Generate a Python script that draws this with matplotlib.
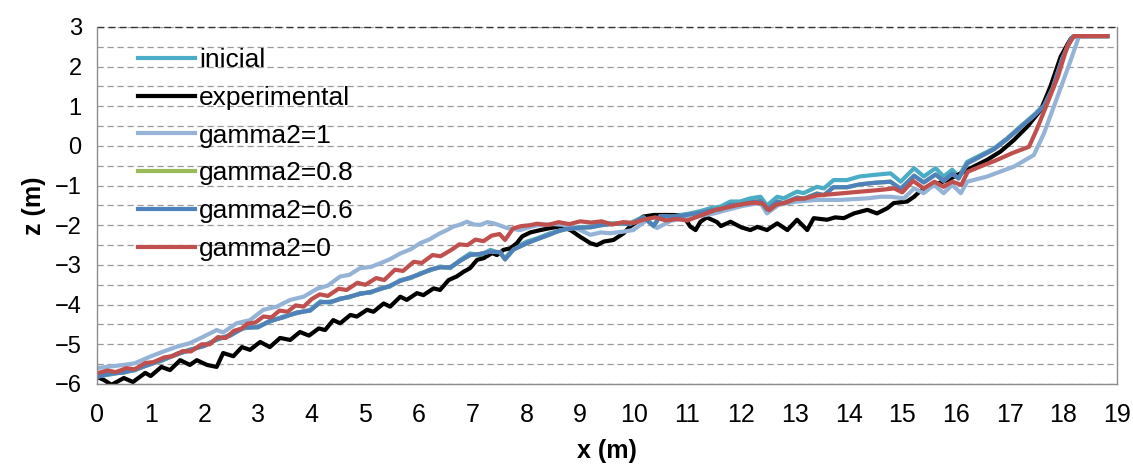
import numpy as np
import matplotlib
matplotlib.use('Agg')
import matplotlib.pyplot as plt
from matplotlib.ticker import MultipleLocator

plt.rcParams['font.family'] = ['Liberation Sans', 'DejaVu Sans']

# bed profile z (m) against distance x (m)
xExp = [0.00, 0.13, 0.27, 0.50, 0.67, 0.90, 1.00, 1.20, 1.36, 1.55, 1.73, 1.86, 2.05, 2.23, 2.35, 2.54,
        2.70, 2.85, 3.04, 3.22, 3.41, 3.60, 3.78, 3.95, 4.13, 4.25, 4.40, 4.53, 4.72, 4.84, 5.03, 5.15,
        5.34, 5.46, 5.65, 5.77, 5.96, 6.08, 6.27, 6.39, 6.55, 6.70, 6.83, 6.95, 7.08, 7.20, 7.36, 7.45,
        7.57, 7.70, 7.82, 7.92, 8.07, 8.26, 8.44, 8.63, 8.82, 9.00, 9.19, 9.31, 9.44, 9.62, 9.81, 9.93,
        10.06, 10.18, 10.37, 10.56, 10.74, 10.93, 11.05, 11.15, 11.24, 11.36, 11.55, 11.62, 11.80, 12.00,
        12.17, 12.30, 12.48, 12.67, 12.86, 13.04, 13.23, 13.35, 13.60, 13.75, 13.91, 14.10, 14.35, 14.53,
        14.72, 14.84, 15.09, 15.22, 15.34, 15.59, 15.84, 16.09, 16.33, 16.58, 16.83, 17.08, 17.33, 17.58,
        17.76, 17.95, 18.14, 18.20, 18.82]
zExp = [-5.82, -5.90, -6.02, -5.85, -5.95, -5.72, -5.80, -5.57, -5.65, -5.40, -5.52, -5.40, -5.52, -5.57, -5.22, -5.30,
        -5.07, -5.14, -4.94, -5.07, -4.84, -4.89, -4.69, -4.78, -4.60, -4.64, -4.39, -4.47, -4.26, -4.30, -4.13, -4.18,
        -3.97, -4.05, -3.80, -3.88, -3.71, -3.76, -3.59, -3.63, -3.38, -3.29, -3.17, -3.08, -2.87, -2.83, -2.70, -2.75,
        -2.62, -2.58, -2.45, -2.28, -2.18, -2.12, -2.07, -2.03, -2.12, -2.29, -2.45, -2.50, -2.41, -2.37, -2.20, -2.03,
        -1.91, -1.78, -1.74, -1.74, -1.74, -1.78, -2.03, -2.12, -1.91, -1.80, -1.92, -2.02, -1.91, -2.05,
        -2.12, -2.04, -2.12, -1.95, -2.12, -1.86, -2.12, -1.82, -1.86, -1.80, -1.82, -1.70, -1.61, -1.70,
        -1.57, -1.44, -1.40, -1.28, -1.13, -0.98, -0.86, -0.69, -0.52, -0.35, -0.14, 0.15, 0.49, 0.91,
        1.50, 2.25, 2.71, 2.77, 2.77]

xIni = [0.00, 0.25, 0.50, 0.70, 1.00, 1.20, 1.50, 1.70, 2.00, 2.23, 2.48, 2.73, 3.00, 3.22, 3.47, 3.72,
        3.97, 4.16, 4.35, 4.53, 4.70, 4.90, 5.10, 5.27, 5.45, 5.65, 5.85, 6.02, 6.20, 6.39, 6.58, 6.77,
        6.95, 7.14, 7.33, 7.51, 7.60, 7.76, 8.01, 8.20, 8.44, 8.60, 8.76, 9.00, 9.19, 9.38, 9.56, 9.75,
        9.93, 10.18, 10.37, 10.49, 10.70, 10.86, 11.05, 11.24, 11.43, 11.61, 11.80, 11.98, 12.17, 12.36,
        12.48, 12.67, 12.79, 13.04, 13.16, 13.41, 13.54, 13.72, 13.97, 14.20, 14.47, 14.78, 14.97, 15.22,
        15.40, 15.62, 15.77, 15.93, 16.05, 16.21, 16.46, 16.71, 16.95, 17.20, 17.45, 17.64, 17.80, 17.98,
        18.15, 18.22, 18.82]
zIni = [-5.80, -5.76, -5.69, -5.66, -5.48, -5.42, -5.23, -5.17, -5.02, -4.89, -4.76, -4.60, -4.55, -4.43, -4.30, -4.22,
        -4.13, -3.92, -3.95, -3.84, -3.82, -3.71, -3.70, -3.59, -3.55, -3.38, -3.33, -3.21, -3.14, -3.04, -3.08, -2.87,
        -2.71, -2.75, -2.62, -2.71, -2.83, -2.58, -2.41, -2.33, -2.20, -2.15, -2.07, -2.05, -2.03, -1.99, -1.95, -1.96,
        -1.95, -1.78, -2.03, -1.74, -1.76, -1.74, -1.70, -1.64, -1.57, -1.53, -1.40, -1.40, -1.32, -1.28,
        -1.50, -1.28, -1.32, -1.15, -1.19, -1.03, -1.07, -0.86, -0.86, -0.77, -0.73, -0.69, -0.90, -0.56,
        -0.77, -0.56, -0.77, -0.60, -0.77, -0.40, -0.23, -0.06, 0.19, 0.49, 0.78, 1.03, 1.45, 2.20,
        2.72, 2.77, 2.77]

zG06 = [-5.82, -5.74, -5.71, -5.64, -5.50, -5.40, -5.25, -5.15, -5.04, -4.87, -4.78, -4.58, -4.57, -4.41, -4.32, -4.20,
        -4.15, -3.94, -3.93, -3.86, -3.80, -3.73, -3.68, -3.61, -3.53, -3.40, -3.31, -3.23, -3.12, -3.06, -3.06, -2.89,
        -2.75, -2.72, -2.66, -2.68, -2.86, -2.61, -2.45, -2.35, -2.23, -2.14, -2.09, -2.06, -2.05, -2.00, -1.97, -1.95,
        -1.97, -1.80, -2.01, -1.77, -1.78, -1.77, -1.72, -1.68, -1.62, -1.60, -1.48, -1.48, -1.42, -1.39,
        -1.60, -1.40, -1.44, -1.30, -1.33, -1.20, -1.24, -1.04, -1.04, -0.97, -0.93, -0.90, -1.08, -0.75,
        -0.92, -0.72, -0.88, -0.70, -0.82, -0.44, -0.26, -0.08, 0.17, 0.47, 0.76, 1.01, 1.45, 2.20,
        2.72, 2.77, 2.77]

zG08 = [-5.82, -5.74, -5.71, -5.64, -5.50, -5.40, -5.25, -5.15, -5.04, -4.87, -4.78, -4.58, -4.57, -4.41, -4.32, -4.20,
        -4.15, -3.94, -3.93, -3.86, -3.80, -3.73, -3.68, -3.61, -3.53, -3.40, -3.31, -3.23, -3.12, -3.06, -3.06, -2.89,
        -2.75, -2.72, -2.66, -2.68, -2.86, -2.61, -2.45, -2.35, -2.23, -2.14, -2.09, -2.06, -2.05, -2.00, -1.97, -1.95,
        -1.97, -1.80, -2.01, -1.77, -1.78, -1.77, -1.72, -1.68, -1.62, -1.60, -1.48, -1.48, -1.42, -1.39,
        -1.60, -1.40, -1.44, -1.30, -1.33, -1.20, -1.24, -1.04, -1.04, -0.97, -0.93, -0.90, -1.08, -0.75,
        -0.92, -0.72, -0.88, -0.70, -0.82, -0.44, -0.26, -0.08, 0.17, 0.47, 0.76, 1.01, 1.45, 2.20,
        2.72, 2.77, 2.77]

xG1 = [0.00, 0.24, 0.49, 0.70, 0.99, 1.24, 1.49, 1.73, 1.98, 2.23, 2.35, 2.60, 2.85, 3.10, 3.35, 3.60,
       3.85, 4.10, 4.30, 4.53, 4.70, 4.90, 5.10, 5.27, 5.45, 5.65, 5.85, 6.02, 6.20, 6.39, 6.52, 6.64,
       6.77, 6.89, 7.02, 7.14, 7.27, 7.39, 7.52, 7.64, 7.88, 8.05, 8.20, 8.50, 8.80, 9.00, 9.19, 9.38,
       9.56, 9.80, 9.99, 10.24, 10.43, 10.70, 10.99, 11.30, 11.50, 11.74, 12.00, 12.20, 12.36, 12.48,
       12.70, 13.04, 13.41, 13.85, 14.35, 14.60, 14.78, 15.03, 15.22, 15.40, 15.59, 15.77, 15.93, 16.09,
       16.21, 16.58, 17.08, 17.45, 17.64, 17.89, 18.14, 18.29, 18.82]
zG1 = [-5.60, -5.56, -5.52, -5.48, -5.31, -5.18, -5.06, -4.97, -4.81, -4.64, -4.70, -4.47, -4.39, -4.13, -4.05, -3.88,
       -3.80, -3.60, -3.52, -3.29, -3.25, -3.08, -3.05, -2.96, -2.86, -2.71, -2.60, -2.45, -2.35, -2.20, -2.12, -2.03,
       -1.98, -1.91, -1.98, -1.99, -1.92, -1.95, -2.01, -2.07, -2.12, -2.05, -2.00, -1.97, -2.00, -2.12, -2.24, -2.18,
       -2.20, -2.16, -2.12, -1.87, -2.07, -1.88, -1.82, -1.75, -1.70, -1.61, -1.52, -1.47, -1.44, -1.70,
       -1.48, -1.40, -1.36, -1.36, -1.32, -1.28, -1.28, -1.32, -1.07, -1.19, -0.98, -1.19, -0.98, -1.19,
       -0.90, -0.77, -0.52, -0.23, 0.32, 1.24, 2.17, 2.76, 2.77]

xG0 = [0.00, 0.20, 0.35, 0.55, 0.70, 0.90, 1.05, 1.25, 1.40, 1.60, 1.75, 1.95, 2.10, 2.25, 2.40, 2.55,
       2.70, 2.80, 2.95, 3.10, 3.25, 3.40, 3.55, 3.70, 3.85, 4.00, 4.15, 4.30, 4.50, 4.65, 4.85, 5.00,
       5.20, 5.35, 5.55, 5.70, 5.90, 6.05, 6.25, 6.40, 6.60, 6.75, 6.90, 7.05, 7.20, 7.35, 7.50, 7.60,
       7.75, 7.90, 8.05, 8.20, 8.40, 8.60, 8.80, 9.00, 9.20, 9.40, 9.60, 9.80, 10.00, 10.20, 10.40, 10.60,
       10.80, 11.00, 11.15, 11.35, 11.55, 11.70, 11.90, 12.05, 12.25, 12.40, 12.52, 12.65, 12.80, 13.00,
       13.20, 13.40, 13.65, 13.90, 14.15, 14.40, 14.65, 14.85, 15.00, 15.20, 15.40, 15.60, 15.77, 15.93,
       16.10, 16.22, 16.45, 16.75, 17.05, 17.36, 17.50, 17.70, 17.90, 18.07, 18.20, 18.82]
zG0 = [-5.73, -5.66, -5.70, -5.60, -5.63, -5.47, -5.45, -5.33, -5.30, -5.17, -5.18, -5.00, -5.00, -4.82, -4.84, -4.66,
       -4.60, -4.48, -4.45, -4.30, -4.32, -4.15, -4.18, -4.02, -4.05, -3.86, -3.74, -3.78, -3.60, -3.63, -3.45, -3.50,
       -3.33, -3.38, -3.12, -3.15, -2.92, -2.95, -2.75, -2.78, -2.62, -2.48, -2.50, -2.36, -2.40, -2.26, -2.22, -2.37,
       -2.08, -2.02, -2.00, -1.96, -1.99, -1.92, -1.97, -1.90, -1.93, -1.90, -1.98, -1.92, -1.94, -1.85, -1.80, -1.88,
       -1.84, -1.88, -1.80, -1.70, -1.60, -1.56, -1.50, -1.46, -1.43, -1.45, -1.62, -1.48, -1.44, -1.34,
       -1.32, -1.25, -1.22, -1.19, -1.16, -1.13, -1.10, -1.07, -1.17, -0.88, -1.07, -0.90, -1.03, -0.90,
       -0.98, -0.65, -0.52, -0.36, -0.18, -0.02, 0.40, 1.07, 1.75, 2.50, 2.77, 2.77]

colors = {'inicial': '#4BACC6', 'experimental': '#000000', 'gamma2=1': '#95B3D7',
          'gamma2=0.8': '#9BBB59', 'gamma2=0.6': '#4F81BD', 'gamma2=0': '#C0504D'}


def main():
    fig = plt.figure(figsize=(11.33, 4.73), dpi=100)
    ax = fig.add_axes([0.0856, 0.1882, 0.9003, 0.7548])

    lw = 3.0
    ax.plot(xIni, zIni, color=colors['inicial'], lw=lw, label='inicial')
    ax.plot(xExp, zExp, color=colors['experimental'], lw=lw, label='experimental')
    ax.plot(xG1, zG1, color=colors['gamma2=1'], lw=lw, label='gamma2=1')
    ax.plot(xIni, zG08, color=colors['gamma2=0.8'], lw=lw, label='gamma2=0.8')
    ax.plot(xIni, zG06, color=colors['gamma2=0.6'], lw=lw, label='gamma2=0.6')
    ax.plot(xG0, zG0, color=colors['gamma2=0'], lw=lw, label='gamma2=0')

    ax.set_xlim(0, 19)
    ax.set_ylim(-6, 3)
    ax.set_xticks(range(0, 20))
    ax.set_yticks(range(-6, 4))
    ax.yaxis.set_minor_locator(MultipleLocator(0.5))
    ax.grid(True, which='both', axis='y', color='#9a9a9a', linestyle=(0, (5, 3)), linewidth=0.9)
    ax.set_axisbelow(True)
    ax.tick_params(axis='x', length=0, pad=14, labelsize=18)
    ax.tick_params(axis='y', length=0, pad=11, labelsize=17)
    ax.tick_params(which='minor', length=0)

    for side in ['left', 'right', 'bottom']:
        ax.spines[side].set_color('#8c8c8c')
        ax.spines[side].set_linewidth(1.0)
    ax.spines['top'].set_visible(False)
    ax.axhline(3, color='#333333', linestyle=(0, (5, 3)), linewidth=1.0, clip_on=False)

    ax.set_xlabel('x (m)', fontsize=18, fontweight='bold', labelpad=8)
    ax.set_ylabel('z (m)', fontsize=18, fontweight='bold', labelpad=6)

    ax.legend(loc='upper left', bbox_to_anchor=(0.025, 0.985), frameon=False, fontsize=19,
              handlelength=2.15, handletextpad=0.15, labelspacing=0.52, borderaxespad=0.2)

    fig.savefig('out.png', dpi=100)


if __name__ == "__main__":
    main()
